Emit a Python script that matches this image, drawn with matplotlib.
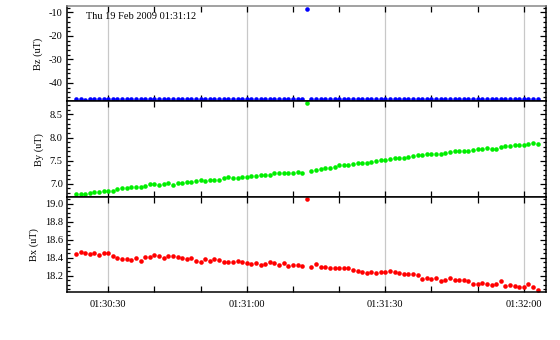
import matplotlib
matplotlib.use("Agg")
import matplotlib.pyplot as plt
import matplotlib.dates as mdates
from matplotlib.ticker import MultipleLocator, FormatStrFormatter
import pandas as pd

plt.rcParams['font.family'] = ['Liberation Serif', 'DejaVu Serif']
plt.rcParams['font.size'] = 7.5
plt.rcParams['axes.unicode_minus'] = True

title_text = "Thu 19 Feb 2009 01:31:12"
start_time = "2009-02-19 01:30:23"
n_samples = 101
times = pd.date_range(start_time, periods=n_samples, freq="1s")

bz = [-46.9, -46.9, -47.2, -46.9, -46.9, -46.9, -46.9, -46.9, -46.9, -46.9,
      -46.9, -46.9, -46.9, -46.9, -46.9, -46.9, -46.9, -46.9, -46.9, -46.9,
      -46.9, -46.9, -46.9, -46.9, -46.9, -46.9, -46.9, -46.9, -46.9, -46.9,
      -46.9, -46.9, -46.9, -46.9, -46.9, -46.9, -46.9, -46.9, -46.9, -46.9,
      -46.9, -46.9, -46.9, -46.9, -46.9, -46.9, -46.9, -46.9, -46.9, -46.9,
      -8.6,
      -46.9, -46.9, -46.9, -46.9, -46.9, -46.9, -46.9, -46.9, -46.9, -46.9,
      -46.9, -46.9, -46.9, -46.9, -46.9, -46.9, -46.9, -46.9, -46.9, -46.9,
      -46.9, -46.9, -46.9, -46.9, -46.9, -46.9, -46.9, -46.9, -46.9, -46.9,
      -46.9, -46.9, -46.9, -46.9, -46.9, -46.9, -46.9, -46.9, -46.9, -46.9,
      -46.9, -46.9, -46.9, -46.9, -46.9, -46.9, -46.9, -46.9, -46.9, -46.9]

by = [6.78, 6.78, 6.78, 6.81, 6.82, 6.82, 6.85, 6.85, 6.845, 6.89,
      6.915, 6.915, 6.94, 6.94, 6.94, 6.96, 7.00, 7.00, 6.98, 7.00,
      7.02, 6.97, 7.02, 7.02, 7.04, 7.04, 7.065, 7.085, 7.065, 7.085,
      7.085, 7.085, 7.13, 7.15, 7.13, 7.13, 7.15, 7.15, 7.17, 7.17,
      7.19, 7.19, 7.19, 7.23, 7.23, 7.23, 7.23, 7.23, 7.255, 7.23,
      8.75,
      7.28, 7.30, 7.32, 7.34, 7.34, 7.36, 7.405, 7.405, 7.405, 7.425,
      7.445, 7.445, 7.445, 7.47, 7.49, 7.51, 7.51, 7.53, 7.555, 7.555,
      7.555, 7.575, 7.595, 7.62, 7.62, 7.64, 7.64, 7.64, 7.64, 7.66,
      7.68, 7.70, 7.70, 7.70, 7.70, 7.72, 7.745, 7.745, 7.765, 7.745,
      7.745, 7.79, 7.81, 7.81, 7.83, 7.83, 7.83, 7.85, 7.875, 7.85]

bx = [18.446, 18.468, 18.457, 18.446, 18.457, 18.434, 18.457, 18.457, 18.423, 18.40,
      18.389, 18.389, 18.378, 18.40, 18.366, 18.412, 18.412, 18.434, 18.423, 18.40,
      18.423, 18.423, 18.412, 18.40, 18.389, 18.40, 18.366, 18.355, 18.389, 18.366,
      18.389, 18.378, 18.355, 18.355, 18.355, 18.366, 18.355, 18.344, 18.333, 18.344,
      18.321, 18.333, 18.355, 18.344, 18.321, 18.344, 18.31, 18.321, 18.321, 18.31,
      19.06,
      18.299, 18.333, 18.299, 18.299, 18.287, 18.287, 18.287, 18.287, 18.287, 18.265,
      18.253, 18.242, 18.231, 18.242, 18.231, 18.242, 18.242, 18.253, 18.242, 18.231,
      18.22, 18.22, 18.22, 18.208, 18.163, 18.174, 18.163, 18.174, 18.141, 18.152,
      18.174, 18.152, 18.152, 18.152, 18.141, 18.107, 18.107, 18.118, 18.107, 18.095,
      18.107, 18.141, 18.084, 18.095, 18.084, 18.073, 18.073, 18.107, 18.073, 18.039]

panels = [
    ("Bz (uT)", bz, "#0000ff", (-47.9, -7.3), 10, 2, "%d"),
    ("By (uT)", by, "#00ee00", (6.72, 8.78), 0.5, 0.1, "%.1f"),
    ("Bx (uT)", bx, "#ff0000", (18.02, 19.08), 0.2, 0.05, "%.1f"),
]

fig = plt.figure(figsize=(5.6, 3.4), dpi=100)
gs = fig.add_gridspec(3, 1, left=0.1196, right=0.975, top=0.982, bottom=0.141, hspace=0)
axes = []
for i in range(3):
    ax = fig.add_subplot(gs[i], sharex=axes[0] if axes else None)
    axes.append(ax)

xmin = pd.Timestamp("2009-02-19 01:30:21.06")
xmax = pd.Timestamp("2009-02-19 01:32:04.8")

for i, (ax, (lab, vals, col, ylim, maj, mnr, fmt)) in enumerate(zip(axes, panels)):
    ax.plot(times, vals, linestyle="none", marker="o", markersize=3.3,
            color=col, markeredgewidth=0, clip_on=False)
    ax.set_ylim(*ylim)
    ax.set_xlim(xmin, xmax)
    ax.set_ylabel(lab, labelpad=4)
    ax.yaxis.set_major_locator(MultipleLocator(maj))
    ax.yaxis.set_minor_locator(MultipleLocator(mnr))
    ax.yaxis.set_major_formatter(FormatStrFormatter(fmt))
    ax.xaxis.set_major_locator(mdates.SecondLocator(bysecond=[0, 30]))
    ax.xaxis.set_minor_locator(mdates.SecondLocator(bysecond=[10, 20, 40, 50]))
    ax.xaxis.set_major_formatter(mdates.DateFormatter("%H:%M:%S"))
    ax.grid(True, axis="x", which="major", color="#c8c8c8", linewidth=0.9)
    ax.tick_params(axis="both", which="both", direction="in", top=True, right=True,
                   width=0.9, color="black")
    ax.tick_params(axis="y", which="major", length=4, pad=3)
    ax.tick_params(axis="y", which="minor", length=2)
    ax.tick_params(axis="x", which="both", length=4, pad=6)
    for s in ax.spines.values():
        s.set_linewidth(1.1)
    if i < 2:
        ax.tick_params(axis="x", labelbottom=False)
    ax.set_axisbelow(True)

axes[0].spines["top"].set_color("#888888")
axes[0].text(0.04, 0.895, title_text, transform=axes[0].transAxes,
             va="center", ha="left", fontsize=7.5)

fig.savefig("out.png", dpi=100)
